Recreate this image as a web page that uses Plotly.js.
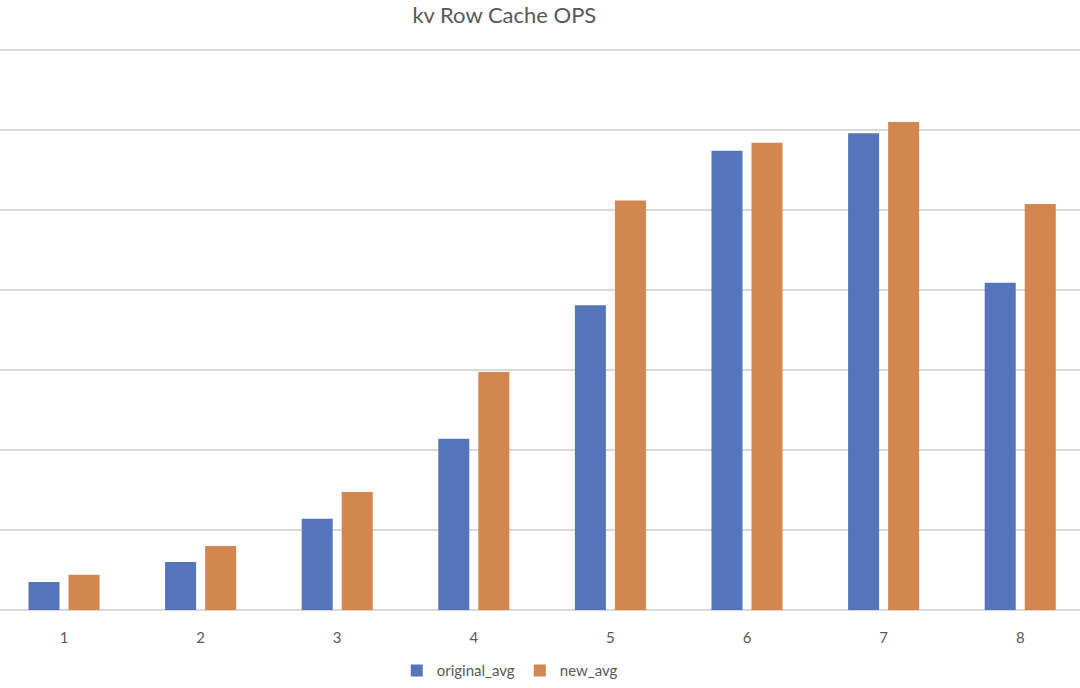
<!DOCTYPE html>
<html>
<head>
<meta charset="utf-8">
<script src="https://cdn.plot.ly/plotly-3.0.1.min.js"></script>
<style>html,body{margin:0;padding:0;background:#fff;}#chart{width:1080px;height:688px;}</style>
</head>
<body>
<div id="chart"></div>
<script>
const categories = [1, 2, 3, 4, 5, 6, 7, 8];
const originalAvg = [0.35, 0.60, 1.14, 2.14, 3.81, 5.74, 5.96, 4.09];
const newAvg = [0.44, 0.80, 1.475, 2.975, 5.12, 5.84, 6.10, 5.075];
const seriesNames = ["original_avg", "new_avg"];

const traces = [
  {type: "bar", x: categories, y: originalAvg, name: seriesNames[0], marker: {color: "#5574BB"}, hoverinfo: "x+y+name"},
  {type: "bar", x: categories, y: newAvg, name: seriesNames[1], marker: {color: "#D38650"}, hoverinfo: "x+y+name"}
];

const layout = {
  width: 1080, height: 688,
  margin: {l: 0, r: 0, t: 42, b: 78},
  paper_bgcolor: "#ffffff", plot_bgcolor: "#ffffff",
  font: {family: "Lato, 'Open Sans', sans-serif", color: "#595959", size: 13},
  title: {text: "kv Row Cache OPS", font: {size: 22, color: "#595959", family: "Lato, 'Open Sans', sans-serif"}, x: 0.467, xanchor: "center", xref: "paper", yref: "container", y: 0.978, yanchor: "middle"},
  barmode: "group", bargap: 0.414, bargroupgap: 0.225,
  xaxis: {range: [0.5315, 8.4375], tickmode: "array", tickvals: categories, ticktext: categories.map(String), showgrid: false, zeroline: false, showline: false, ticks: "outside", ticklen: 14, tickcolor: "rgba(0,0,0,0)", tickfont: {size: 15, color: "#595959"}, fixedrange: true},
  yaxis: {range: [0, 7.1], tickmode: "array", tickvals: [0, 1, 2, 3, 4, 5, 6, 7], showticklabels: false, showgrid: true, gridcolor: "#d9d9d9", gridwidth: 1.5, zeroline: true, zerolinecolor: "#d9d9d9", zerolinewidth: 1.5, fixedrange: true},
  showlegend: true,
  legend: {orientation: "h", x: 0.472, xanchor: "center", y: -0.107, yanchor: "middle", font: {size: 15, color: "#595959"}, itemwidth: 30}
};

Plotly.newPlot("chart", traces, layout, {displayModeBar: false, staticPlot: true});
</script>
</body>
</html>
